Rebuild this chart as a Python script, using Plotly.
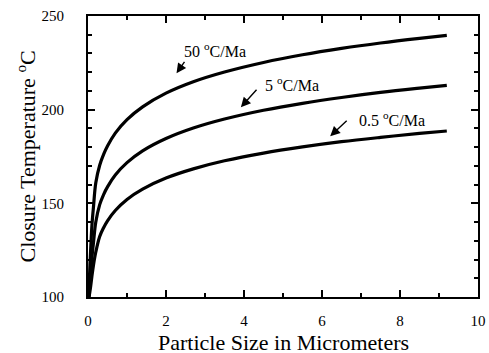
import plotly.graph_objects as go

# Particle size (micrometers) and closure temperature (°C)
x_50 = [0.02, 0.03, 0.05, 0.07, 0.1, 0.14, 0.2, 0.3, 0.4, 0.5, 0.7, 1.0, 1.4, 2.0,
        2.7, 3.5, 4.5, 5.5, 6.5, 7.5, 8.5, 9.2]
t_50 = [100, 106, 117, 126, 138, 148, 161, 170.3, 176.1, 180.6, 187.5, 194.7, 201.5, 208.8,
        214.9, 220.1, 225.2, 229.3, 232.7, 235.6, 238.1, 239.7]

x_5 = [0.02, 0.03, 0.05, 0.07, 0.1, 0.14, 0.2, 0.3, 0.4, 0.5, 0.7, 1.0, 1.4, 2.0,
       2.7, 3.5, 4.5, 5.5, 6.5, 7.5, 8.5, 9.2]
t_5 = [100, 102, 108, 113, 121, 129, 140, 149.3, 154.7, 158.8, 165.1, 171.7, 178.0, 184.6,
       190.2, 195.0, 199.7, 203.4, 206.5, 209.2, 211.5, 213.0]

x_05 = [0.02, 0.03, 0.05, 0.07, 0.1, 0.14, 0.2, 0.3, 0.4, 0.5, 0.7, 1.0, 1.4, 2.0,
        2.7, 3.5, 4.5, 5.5, 6.5, 7.5, 8.5, 9.2]
t_05 = [100, 100.5, 103, 106, 111, 117, 124, 132.3, 137.0, 140.7, 146.2, 152.1, 157.6, 163.5,
        168.4, 172.7, 176.8, 180.1, 182.9, 185.2, 187.3, 188.6]

series = [("50 °C/Ma", x_50, t_50), ("5 °C/Ma", x_5, t_5), ("0.5 °C/Ma", x_05, t_05)]

x_title = "Particle Size in Micrometers"
y_title = "Closure Temperature <sup>o</sup>C"

# label text, text anchor (data), arrow tip (data), arrow tail offset (px)
labels = ["50 <sup>o</sup>C/Ma", "5 <sup>o</sup>C/Ma", "0.5 <sup>o</sup>C/Ma"]
label_pos = [(3.25, 231.6), (5.22, 213.6), (7.80, 194.8)]
arrow_tip = [(2.27, 219.4), (3.92, 201.3), (6.21, 185.8)]
arrow_off = [(9, -13), (17, -19), (18, -17)]

font_family = "Liberation Serif"

fig = go.Figure()
for name, xs, ts in series:
    fig.add_trace(go.Scatter(x=xs, y=ts, mode="lines", name=name,
                             line=dict(color="black", width=3.2, shape="spline", smoothing=1.0),
                             showlegend=False))

annotations = []
for txt, (lx, ly) in zip(labels, label_pos):
    annotations.append(dict(x=lx, y=ly, xref="x", yref="y", text=txt, showarrow=False,
                            font=dict(family=font_family, size=16, color="black")))
for (tx, ty), (ox, oy) in zip(arrow_tip, arrow_off):
    annotations.append(dict(x=tx, y=ty, xref="x", yref="y", text="", showarrow=True,
                            ax=ox, ay=oy, arrowhead=2, arrowsize=1.4, arrowwidth=1.4,
                            arrowcolor="black"))
# axis titles
annotations.append(dict(x=0.5, y=0, xref="paper", yref="paper", text=x_title, showarrow=False,
                        xanchor="center", yanchor="middle", yshift=-45,
                        font=dict(family=font_family, size=22, color="black")))
annotations.append(dict(x=0, y=0.5, xref="paper", yref="paper", text=y_title, showarrow=False,
                        xanchor="center", yanchor="middle", xshift=-63, textangle=-90,
                        font=dict(family=font_family, size=22, color="black")))

axis_common = dict(showline=True, linecolor="black", linewidth=2, mirror="ticks",
                   ticks="inside", tickcolor="black", tickwidth=1.5, ticklen=7,
                   showgrid=False, zeroline=False, automargin=False,
                   tickfont=dict(family=font_family, size=15, color="black"))

fig.update_layout(
    width=489, height=353,
    margin=dict(l=88, r=11, t=16, b=56),
    paper_bgcolor="white", plot_bgcolor="white",
    font=dict(family=font_family, color="black"),
    annotations=annotations,
    xaxis=dict(range=[0, 10], dtick=2, tick0=0,
               minor=dict(dtick=1, ticks="inside", ticklen=4, tickcolor="black", tickwidth=1.5),
               ticklabelstandoff=9, **axis_common),
    yaxis=dict(range=[100, 250], dtick=50, tick0=100,
               minor=dict(dtick=10, ticks="inside", ticklen=4, tickcolor="black", tickwidth=1.5),
               ticklabelstandoff=19, **axis_common),
)

fig.write_html("out.html")
